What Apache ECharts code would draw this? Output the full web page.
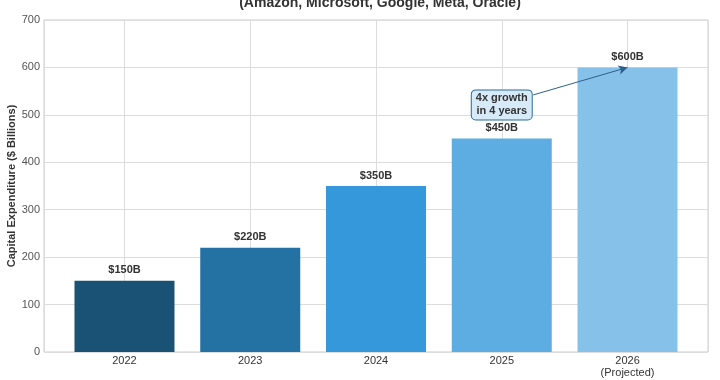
<!DOCTYPE html>
<html>
<head>
<meta charset="utf-8">
<script src="https://cdn.jsdelivr.net/npm/echarts@6/dist/echarts.min.js"></script>
<style>html,body{margin:0;padding:0;background:#fff}#c{width:720px;height:380px}</style>
</head>
<body>
<div id="c"></div>
<script>
const categories = ['2022', '2023', '2024', '2025', '2026\n(Projected)'];
const capex = [150, 220, 350, 450, 600];
const barColors = ['#1a5276', '#2471a3', '#3498db', '#5dade2', '#85c1e9'];
const yTicks = [0, 100, 200, 300, 400, 500, 600, 700];
const annotationText = '4x growth\nin 4 years';
const annotationAt = [3, 521];
const arrowFrom = [3.25, 542];
const arrowTo = [4, 600];

const chart = echarts.init(document.getElementById('c'), null, {renderer: 'canvas'});
const font = 'Liberation Sans, Arial, sans-serif';
chart.setOption({
  animation: false,
  textStyle: {fontFamily: font},
  title: {
    text: '(Amazon, Microsoft, Google, Meta, Oracle)',
    left: 375, textAlign: 'center', top: -9,
    textStyle: {fontSize: 14, fontWeight: 'bold', color: '#333', fontFamily: font}
  },
  grid: {left: 44, right: 12, top: 20, bottom: 28, containLabel: false, outerBoundsMode: 'none',
         show: true, borderColor: '#cccccc', borderWidth: 1},
  xAxis: {
    type: 'value', min: -0.64, max: 4.64, splitNumber: 5,
    axisLine: {show: false}, axisTick: {show: false},
    splitLine: {show: true, lineStyle: {color: '#dddddd', width: 1}},
    axisLabel: {
      show: true, margin: 3, fontSize: 11, color: '#333', lineHeight: 12,
      showMinLabel: false, showMaxLabel: false,
      formatter: v => (Math.abs(v - Math.round(v)) < 1e-6 && v >= 0 && v < categories.length) ? categories[Math.round(v)] : ''
    }
  },
  yAxis: {
    type: 'value', min: yTicks[0], max: yTicks[yTicks.length - 1], interval: 100,
    name: 'Capital Expenditure ($ Billions)', nameLocation: 'middle', nameGap: 27, nameMoveOverlap: false,
    nameTextStyle: {fontSize: 11, fontWeight: 'bold', color: '#333', fontFamily: font},
    axisLine: {show: false}, axisTick: {show: false},
    splitLine: {show: true, lineStyle: {color: '#dddddd', width: 1}},
    axisLabel: {fontSize: 11, color: '#555', margin: 4}
  },
  series: [{
    type: 'bar',
    barWidth: 100,
    data: capex.map((v, i) => ({value: [i, v], itemStyle: {color: barColors[i]}})),
    label: {
      show: true, position: 'top', distance: 5,
      formatter: p => '$' + p.value[1] + 'B',
      fontSize: 11, fontWeight: 'bold', color: '#333'
    },
    markPoint: {
      silent: true,
      symbol: 'circle', symbolSize: 0,
      data: [{coord: annotationAt, value: 0}],
      label: {
        show: true, position: 'inside', formatter: annotationText,
        fontSize: 11, fontWeight: 'bold', color: '#333', lineHeight: 13, align: 'center',
        backgroundColor: '#d6eaf8', borderColor: '#2e6a99', borderWidth: 1, borderRadius: 4,
        padding: [2, 4, 1, 4]
      }
    },
    markLine: {
      silent: true,
      symbol: ['none', 'arrow'], symbolSize: [7, 9],
      label: {show: false},
      lineStyle: {color: '#2e5f8a', width: 1, type: 'solid'},
      data: [[{coord: arrowFrom}, {coord: arrowTo}]]
    }
  }]
});
</script>
</body>
</html>
